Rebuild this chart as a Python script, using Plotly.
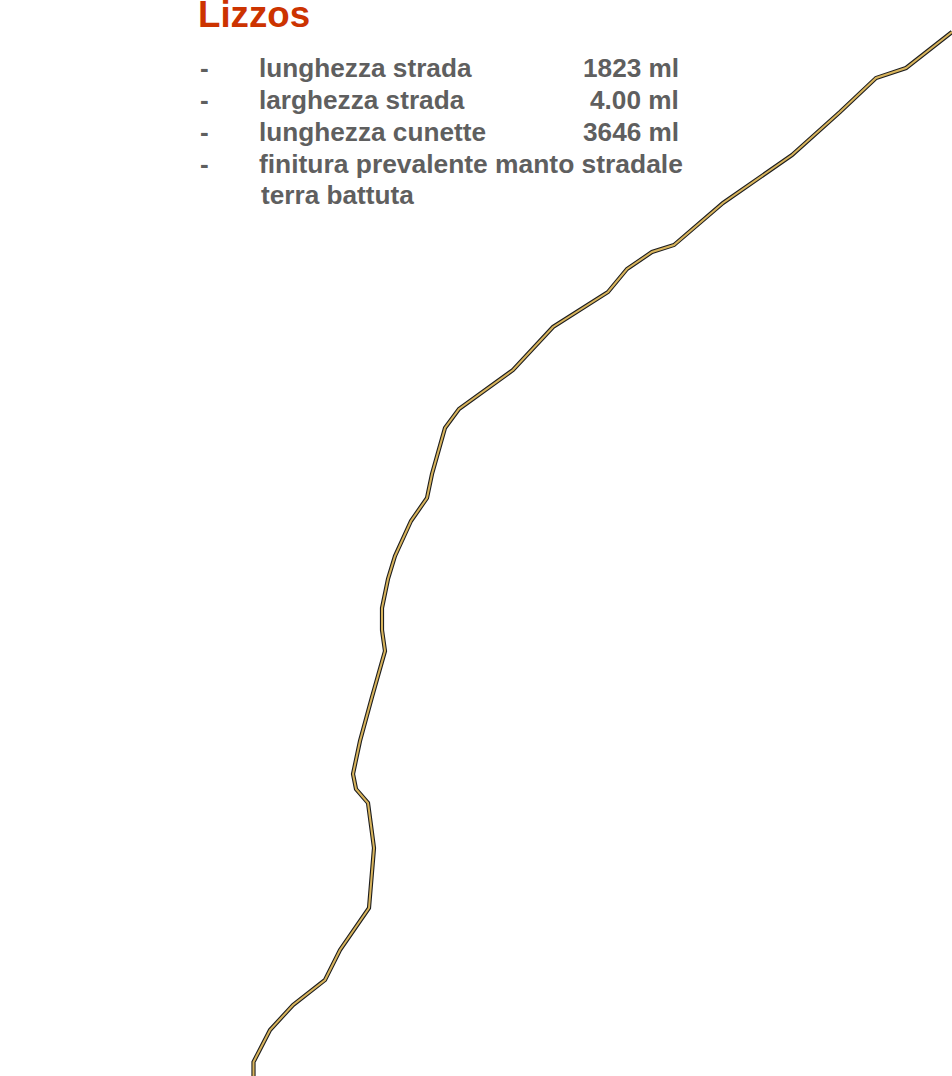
import plotly.graph_objects as go

road_x = [952, 906, 876, 840, 792, 723, 674, 652, 627, 608, 553, 513, 459, 445, 432, 427, 411, 395, 388, 382, 382, 385, 372, 360, 353, 356, 368, 374, 369, 340, 325, 293, 270, 253.5, 253.5]
road_y = [32, 68, 78, 112, 155, 203, 245, 252, 269, 292, 327, 370, 409, 428, 474, 498, 521, 556, 579, 608, 630, 651, 697, 741, 774, 789, 803, 848, 908, 950, 980, 1005, 1030, 1062, 1076]

title_text = "Lizzos"
dash_labels = ["-", "-", "-", "-"]
item_labels = ["lunghezza strada", "larghezza strada", "lunghezza cunette", "finitura prevalente manto stradale", "terra battuta"]
item_values = ["1823 ml", "4.00 ml", "3646 ml"]
item_y = [68, 100, 132, 164, 195]
item_x = [258.7, 258.7, 258.7, 258.7, 260.5]
item_size = [26.2, 26.2, 26.2, 26.4, 26.2]

FONT = "Liberation Sans"
GREY = "#5f5f5f"

fig = go.Figure()
fig.add_trace(go.Scatter(x=road_x, y=road_y, mode="lines", hoverinfo="skip",
                         line=dict(color="#1e1e1e", width=4.2)))
fig.add_trace(go.Scatter(x=road_x, y=road_y, mode="lines", hoverinfo="skip",
                         line=dict(color="#d8b45c", width=2)))

ann = [dict(x=198, y=14, text=f"<b>{title_text}</b>", xanchor="left", yanchor="middle",
            font=dict(family=FONT, size=36.7, color="#cc3300"))]
for d, yy in zip(dash_labels, item_y):
    ann.append(dict(x=200, y=yy, text=f"<b>{d}</b>", xanchor="left", yanchor="middle",
                    font=dict(family=FONT, size=26, color=GREY)))
for t, xx, yy, ss in zip(item_labels, item_x, item_y, item_size):
    ann.append(dict(x=xx, y=yy, text=f"<b>{t}</b>", xanchor="left", yanchor="middle",
                    font=dict(family=FONT, size=ss, color=GREY)))
for v, yy in zip(item_values, item_y):
    ann.append(dict(x=679, y=yy, text=f"<b>{v}</b>", xanchor="right", yanchor="middle",
                    font=dict(family=FONT, size=26.2, color=GREY)))
for a in ann:
    a.update(xref="x", yref="y", showarrow=False, borderpad=0, borderwidth=0)

fig.update_layout(width=952, height=1076, margin=dict(l=0, r=0, t=0, b=0),
                  paper_bgcolor="white", plot_bgcolor="white", showlegend=False,
                  annotations=ann,
                  xaxis=dict(range=[0, 952], visible=False, fixedrange=True),
                  yaxis=dict(range=[1076, 0], visible=False, fixedrange=True))
fig.write_html("out.html", config=dict(displayModeBar=False),
               post_script="document.body.style.margin='0';document.body.style.overflow='hidden';")
